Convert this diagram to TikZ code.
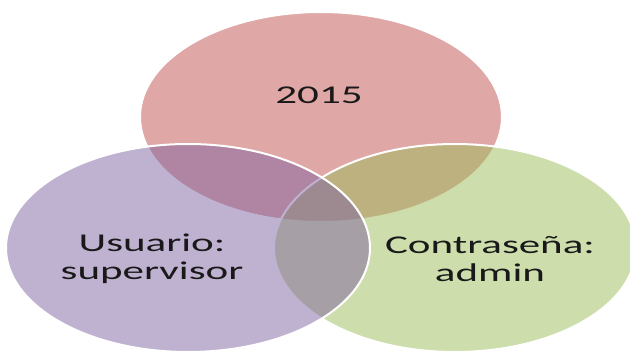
\documentclass[tikz,border=0pt]{standalone}
\usepackage{fontspec}
\setmainfont{Carlito}

\definecolor{redset}{HTML}{C0504D}
\definecolor{greenset}{HTML}{9BBB59}
\definecolor{purpleset}{HTML}{8064A2}

\tikzset{
  venn/.style={draw=white, line width=2pt, fill opacity=0.5, draw opacity=1},
  lbl/.style={font=\fontsize{25.6}{28}\selectfont, text=black!90, align=center,
    xscale=1.68, inner sep=0pt}
}

\begin{document}
\begin{tikzpicture}[x=1pt,y=-1pt]
\useasboundingbox (0,0) rectangle (630,353);
% the three sets, red first so purple ends up on top
\draw[venn, fill=redset] (321,117) ellipse [x radius=181, y radius=105];
\draw[venn, fill=greenset] (455,248) ellipse [x radius=181, y radius=104];
\draw[venn, fill=purpleset] (188,248) ellipse [x radius=182, y radius=104];
% labels
\node[lbl] (year) at (319,95) {2015};
\node[lbl] (user) at (152,259) {Usuario:\\supervisor};
\node[lbl] (pass) at (490,259) {Contraseña:\\admin};
\end{tikzpicture}
\end{document}
